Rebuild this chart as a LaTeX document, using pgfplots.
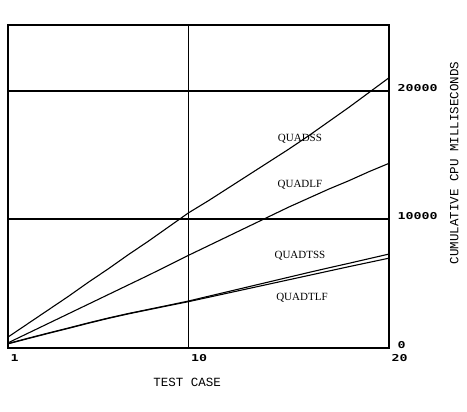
\documentclass[border=0pt]{standalone}
\usepackage{fontspec}
\usepackage{pgfplots}
\pgfplotsset{compat=1.18}
\setmainfont{Liberation Serif}
\newfontfamily\labfont{Liberation Mono}
\newfontfamily\tickfont[FakeStretch=1.4]{DejaVu Sans Mono Bold}

\begin{document}
\begin{tikzpicture}[x=1pt,y=1pt]
\begin{axis}[
    scale only axis, width=381pt, height=323pt,
    xmin=1, xmax=20, ymin=0, ymax=25100,
    xtick={1,10,20}, xticklabels={1,10,20},
    ytick={0,10000,20000}, yticklabels={0,10000,20000},
    scaled y ticks=false,
    yticklabel pos=right,
    major tick length=0pt,
    grid=major,
    every axis grid/.style={black, line width=1.8pt},
    axis line style={line width=1.8pt},
    tick label style={font=\tickfont\fontsize{9.5}{9.5}\selectfont},
    xticklabel style={anchor=north west, xshift=-1pt, yshift=-3pt},
    yticklabel style={anchor=west, xshift=5pt, yshift=3pt},
    xlabel={TEST CASE},
    xlabel style={font=\labfont\fontsize{12.5}{12.5}\selectfont,
        at={(axis description cs:0.47,-0.108)}, anchor=center},
    ylabel={CUMULATIVE CPU MILLISECONDS},
    ylabel style={font=\labfont\fontsize{12.5}{12.5}\selectfont,
        at={(axis description cs:1.171,0.573)}, anchor=center},
    clip=false,
]
\coordinate (ll) at (rel axis cs:0,0);
% QUADSS
\addplot[black, no marks, line width=1.1pt] coordinates {
 (1,850) (2,1900) (3,2950) (4,4000) (5,5100) (6,6150) (7,7250) (8,8300) (9,9400) (10,10500)
 (11,11450) (12,12450) (13,13450) (14,14450) (15,15450) (16,16500) (17,17600) (18,18700) (19,19850) (20,21000)
};
% QUADLF
\addplot[black, no marks, line width=1.1pt] coordinates {
 (1,400) (2,1150) (3,1900) (4,2650) (5,3400) (6,4150) (7,4900) (8,5650) (9,6420) (10,7200)
 (11,7950) (12,8700) (13,9450) (14,10200) (15,10950) (16,11650) (17,12350) (18,13000) (19,13700) (20,14350)
};
% QUADTSS
\addplot[black, no marks, line width=1.1pt] coordinates {
 (1,350) (2,760) (3,1160) (4,1550) (5,1950) (6,2330) (7,2680) (8,3000) (9,3320) (10,3650)
 (11,4020) (12,4390) (13,4760) (14,5130) (15,5500) (16,5870) (17,6230) (18,6580) (19,6940) (20,7300)
};
% QUADTLF
\addplot[black, no marks, line width=1.1pt] coordinates {
 (1,320) (2,730) (3,1130) (4,1520) (5,1920) (6,2300) (7,2650) (8,2970) (9,3290) (10,3600)
 (11,3940) (12,4280) (13,4620) (14,4960) (15,5300) (16,5640) (17,5980) (18,6320) (19,6650) (20,6980)
};
\node[font=\fontsize{11}{11}\selectfont] at (axis cs:15.56,16280) {QUADSS};
\node[font=\fontsize{11}{11}\selectfont] at (axis cs:15.56,12710) {QUADLF};
\node[font=\fontsize{11}{11}\selectfont] at (axis cs:15.56,7130) {QUADTSS};
\node[font=\fontsize{11}{11}\selectfont] at (axis cs:15.66,3880) {QUADTLF};
\end{axis}
\path (ll) ++(-8,-64) rectangle ++(467,412);
\end{tikzpicture}
\end{document}
